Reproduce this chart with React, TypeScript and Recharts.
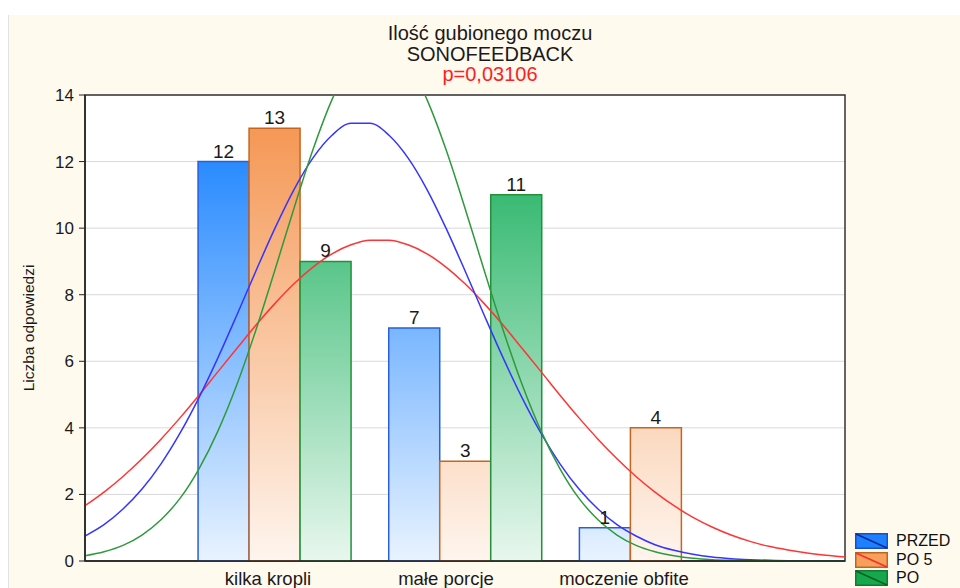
import {
  ComposedChart, Bar, Line, XAxis, YAxis, CartesianGrid,
  LabelList, Legend, ReferenceArea,
} from "recharts";

const categories = ["kilka kropli", "małe porcje", "moczenie obfite"];
const przed = [12, 7, 1];
const po5 = [13, 3, 4];
const po = [9, 11, 0];
const yTicks = [0, 2, 4, 6, 8, 10, 12, 14];

// fitted curves at steps of 0.1 on the 0..4 scale
const curveX = [
  0, 0.1, 0.2, 0.3, 0.4, 0.5, 0.6, 0.7, 0.8, 0.9, 1, 1.1, 1.2, 1.3, 1.4, 1.5, 1.6, 1.7, 1.8, 1.9, 2,
  2.1, 2.2, 2.3, 2.4, 2.5, 2.6, 2.7, 2.8, 2.9, 3, 3.1, 3.2, 3.3, 3.4, 3.5, 3.6, 3.7, 3.8, 3.9, 4,
];
const przedCurve = [
  0.75, 1.09, 1.56, 2.16, 2.92, 3.84, 4.91, 6.11, 7.4, 8.72, 10.0, 11.16, 12.11, 12.79, 13.15, 13.15,
  12.79, 12.11, 11.16, 10.0, 8.72, 7.4, 6.11, 4.91, 3.84, 2.92, 2.16, 1.56, 1.09, 0.75, 0.49, 0.32,
  0.2, 0.12, 0.07, 0.04, 0.02, 0.01, 0.01, 0, 0,
];
const po5Curve = [
  1.66, 2.07, 2.54, 3.07, 3.66, 4.3, 4.98, 5.69, 6.39, 7.09, 7.74, 8.33, 8.83, 9.23, 9.5, 9.64,
  9.64, 9.5, 9.23, 8.83, 8.33, 7.74, 7.09, 6.39, 5.69, 4.98, 4.3, 3.66, 3.07, 2.54, 2.07, 1.66,
  1.31, 1.02, 0.78, 0.59, 0.44, 0.33, 0.24, 0.17, 0.12,
];
const poCurve = [
  0.16, 0.28, 0.47, 0.78, 1.24, 1.88, 2.77, 3.91, 5.31, 6.95, 8.75, 10.6, 12.36, 13.86, 14.97, 15.56,
  15.56, 14.97, 13.86, 12.36, 10.6, 8.75, 6.95, 5.31, 3.91, 2.77, 1.88, 1.24, 0.78, 0.47, 0.28, 0.16,
  0.08, 0.04, 0.02, 0.01, 0.01, 0, 0, 0, 0,
];

const data = categories.map((name, i) => ({ name, przed: przed[i], po5: po5[i], po: po[i] }));
const toCurve = (vals: number[]) => curveX.map((x, i) => ({ x, y: vals[i] }));

const FONT = "'Liberation Sans', Arial, sans-serif";
const PLOT_TOP = 95;
const PLOT_BOTTOM = 561;

const legendItems = [
  { name: "PRZED", fill: "#1f80ff", edge: "#1450c8", slash: "#0a2a9a" },
  { name: "PO 5", fill: "#f7a05c", edge: "#c0651f", slash: "#ff2a2a" },
  { name: "PO", fill: "#16a84c", edge: "#127a32", slash: "#0a6020" },
];

function LegendBox() {
  return (
    <div style={{ fontFamily: FONT, fontSize: 16, lineHeight: "18px", color: "#111" }}>
      {legendItems.map((it) => (
        <div key={it.name} style={{ display: "flex", alignItems: "center", height: 18.5, whiteSpace: "nowrap" }}>
          <svg width={33} height={16} style={{ marginRight: 8, flex: "none" }}>
            <rect x={0.75} y={0.75} width={31.5} height={14.5} fill={it.fill} stroke={it.edge} strokeWidth={1.5} />
            <line x1={1} y1={1} x2={32} y2={15} stroke={it.slash} strokeWidth={1.5} />
          </svg>
          <span>{it.name}</span>
        </div>
      ))}
    </div>
  );
}

const hideZero = (v: any) => (Number(v) === 0 ? "" : v);

export default function App() {
  return (
    <div style={{ position: "absolute", left: 0, top: 0, width: 960, height: 588, overflow: "hidden", background: "#fff" }}>
      <div style={{ position: "absolute", left: 8, top: 15, right: 0, bottom: 0, background: "#fff9ee", borderLeft: "1px solid #e2e2e2" }} />
      <div style={{ position: "absolute", left: 290, top: 23, width: 400, textAlign: "center", fontFamily: FONT, fontSize: 20, lineHeight: "20.5px", color: "#1a1a1a" }}>
        <div>Ilość gubionego moczu</div>
        <div>SONOFEEDBACK</div>
        <div style={{ color: "#ff2020" }}>p=0,03106</div>
      </div>
      <div style={{ position: "absolute", left: 0, top: 0 }}>
        <ComposedChart
          width={960}
          height={588}
          data={data}
          margin={{ top: PLOT_TOP, right: 115, bottom: 0, left: 25 }}
          barCategoryGap="10%"
          barGap={0}
        >
          <defs>
            <linearGradient id="gBlue" gradientUnits="userSpaceOnUse" x1={0} y1={PLOT_TOP} x2={0} y2={PLOT_BOTTOM}>
              <stop offset="0%" stopColor="#0a7aff" />
              <stop offset="100%" stopColor="#e9f3ff" />
            </linearGradient>
            <linearGradient id="gOrange" gradientUnits="userSpaceOnUse" x1={0} y1={PLOT_TOP} x2={0} y2={PLOT_BOTTOM}>
              <stop offset="0%" stopColor="#f4914a" />
              <stop offset="100%" stopColor="#fef5ee" />
            </linearGradient>
            <linearGradient id="gGreen" gradientUnits="userSpaceOnUse" x1={0} y1={PLOT_TOP} x2={0} y2={PLOT_BOTTOM}>
              <stop offset="0%" stopColor="#0aaa52" />
              <stop offset="100%" stopColor="#e8f7ee" />
            </linearGradient>
          </defs>
          <CartesianGrid xAxisId="num" vertical={false} stroke="#d9d9d9" fill="#ffffff" />
          <XAxis
            xAxisId="lbl"
            dataKey="name"
            height={27}
            padding={{ left: 94, right: 132 }}
            tickLine={false}
            tickSize={0}
            tickMargin={11}
            axisLine={{ stroke: "#222", strokeWidth: 1.5 }}
            tick={{ fontSize: 18.5, fill: "#1a1a1a", fontFamily: FONT }}
            interval={0}
          />
          <XAxis xAxisId="cat" dataKey="name" hide height={0} padding={{ left: 94, right: 94 }} />
          <XAxis xAxisId="num" type="number" dataKey="x" domain={[0, 4]} allowDataOverflow hide height={0} />
          <YAxis
            type="number"
            domain={[0, 14]}
            ticks={yTicks}
            allowDataOverflow
            width={60}
            tickSize={6}
            tickMargin={5}
            tickLine={{ stroke: "#222" }}
            axisLine={{ stroke: "#222", strokeWidth: 1.5 }}
            tick={{ fontSize: 17, fill: "#1a1a1a", fontFamily: FONT }}
            label={{
              value: "Liczba odpowiedzi",
              angle: -90,
              position: "insideLeft",
              offset: 3,
              style: { textAnchor: "middle", fontSize: 15.5, fill: "#1a1a1a", fontFamily: FONT },
            }}
          />
          <ReferenceArea xAxisId="num" x1={0} x2={4} y1={0} y2={14} fill="none" stroke="#333" strokeWidth={1.5} />
          <Bar xAxisId="cat" dataKey="przed" name="PRZED" fill="url(#gBlue)" stroke="#2a5fd8" strokeWidth={1.5} isAnimationActive={false}>
            <LabelList dataKey="przed" position="top" offset={4} formatter={hideZero} fill="#1a1a1a" fontSize={19} fontFamily={FONT} />
          </Bar>
          <Bar xAxisId="cat" dataKey="po5" name="PO 5" fill="url(#gOrange)" stroke="#c4661f" strokeWidth={1.5} isAnimationActive={false}>
            <LabelList dataKey="po5" position="top" offset={4} formatter={hideZero} fill="#1a1a1a" fontSize={19} fontFamily={FONT} />
          </Bar>
          <Bar xAxisId="cat" dataKey="po" name="PO" fill="url(#gGreen)" stroke="#24903a" strokeWidth={1.5} isAnimationActive={false}>
            <LabelList dataKey="po" position="top" offset={4} formatter={hideZero} fill="#1a1a1a" fontSize={19} fontFamily={FONT} />
          </Bar>
          <Line xAxisId="num" data={toCurve(po5Curve)} dataKey="y" type="monotone" stroke="#ff3535" strokeWidth={1.5} dot={false} legendType="none" isAnimationActive={false} />
          <Line xAxisId="num" data={toCurve(przedCurve)} dataKey="y" type="monotone" stroke="#3535ff" strokeWidth={1.5} dot={false} legendType="none" isAnimationActive={false} />
          <Line xAxisId="num" data={toCurve(poCurve)} dataKey="y" type="monotone" stroke="#2e9a3c" strokeWidth={1.5} dot={false} legendType="none" isAnimationActive={false} />
          <Legend
            layout="horizontal"
            align="center"
            verticalAlign="middle"
            content={() => <LegendBox />}
            wrapperStyle={{ left: 855, top: 532, width: 110, height: 56 }}
          />
        </ComposedChart>
      </div>
    </div>
  );
}
